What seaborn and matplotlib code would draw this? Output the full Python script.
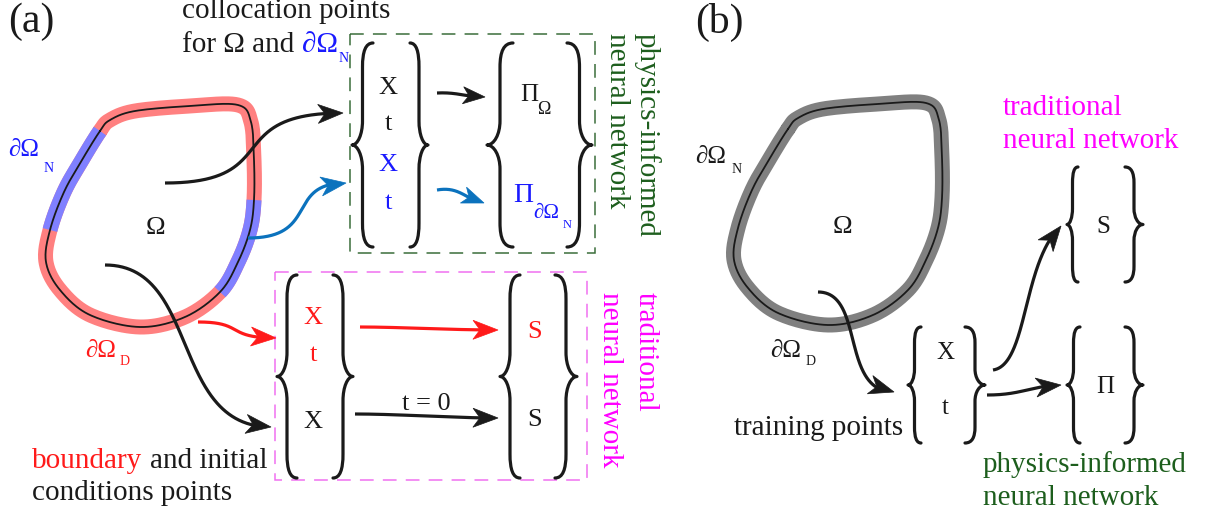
import numpy as np
import matplotlib
matplotlib.use("Agg")
import matplotlib.pyplot as plt
import seaborn as sns
from matplotlib.path import Path
from matplotlib.patches import Rectangle, PathPatch, Polygon

sns.set_theme(style="white")
plt.rcParams["font.family"] = ["Liberation Serif", "DejaVu Serif"]

W, H = 1220, 517
PT = 72 / 100.0  # points per pixel

# ---------------- data ----------------
# domain outline control points (panel a, pixel space)
domain_x = [100, 82, 64, 50, 46, 60, 90, 140, 185, 220, 238, 250, 254, 254, 251, 238, 190, 135, 110]
domain_y = [131, 160, 192, 230, 262, 290, 315, 327, 317, 292, 262, 230, 200, 160, 122, 105, 106, 111, 120]
neumann_segments = [(0, 3), (9, 12)]
panel_b_shift = (688, -2)

RED = "#ff1a1a"
BLUE = "#1a1aff"
ARROW_BLUE = "#0b72bd"
GREEN = "#1d5e1d"
GREEN_BOX = "#3a6e3a"
MAGENTA = "#ff00ff"
PINK_BOX = "#f070f0"

# ---------------- helpers ----------------
def catmull_closed(xs, ys, n=24):
    P = np.column_stack([xs, ys]).astype(float)
    m = len(P)
    out = []
    for i in range(m):
        p0, p1, p2, p3 = P[(i - 1) % m], P[i], P[(i + 1) % m], P[(i + 2) % m]
        t = np.linspace(0, 1, n, endpoint=False)[:, None]
        seg = 0.5 * ((2 * p1) + (-p0 + p2) * t + (2 * p0 - 5 * p1 + 4 * p2 - p3) * t ** 2
                     + (-p0 + 3 * p1 - 3 * p2 + p3) * t ** 3)
        out.append(seg)
    return np.vstack(out), n


def brace(ax, x_tip, x_end, y0, y1, r=20, color="k", lw=2.3):
    xb = (x_tip + x_end) / 2.0
    ym = (y0 + y1) / 2.0
    verts = [
        (x_end, y0),
        (xb + (x_end - xb) * 0.3, y0), (xb, y0 + r * 0.35), (xb, y0 + r),
        (xb, ym - r),
        (xb, ym - r * 0.45), (xb + (x_tip - xb) * 0.45, ym), (x_tip, ym),
        (xb + (x_tip - xb) * 0.45, ym), (xb, ym + r * 0.45), (xb, ym + r),
        (xb, y1 - r),
        (xb, y1 - r * 0.35), (xb + (x_end - xb) * 0.3, y1), (x_end, y1),
    ]
    codes = [Path.MOVETO] + [Path.CURVE4] * 3 + [Path.LINETO] + [Path.CURVE4] * 6 + \
            [Path.LINETO] + [Path.CURVE4] * 3
    ax.add_patch(PathPatch(Path(verts, codes), fill=False, edgecolor=color, lw=lw,
                           capstyle="round", joinstyle="round"))


def arrow(ax, p0, c1, c2, p1, color="k", lw=2.3, L=25.0, hw=9.5, notch=7.0):
    P = np.array([p0, c1, c2, p1], float)
    t = np.linspace(0, 1, 300)[:, None]
    pts = ((1 - t) ** 3) * P[0] + 3 * ((1 - t) ** 2) * t * P[1] + 3 * (1 - t) * t ** 2 * P[2] + t ** 3 * P[3]
    tip = P[3]
    dist = np.hypot(pts[:, 0] - tip[0], pts[:, 1] - tip[1])
    keep = dist >= (L - notch - 1)
    idx = np.where(dist >= L * 0.8)[0][-1]
    d = tip - pts[idx]
    d = d / np.hypot(*d)
    nvec = np.array([-d[1], d[0]])
    back = tip - L * d
    head = [tip, back + hw * nvec, tip - (L - notch) * d, back - hw * nvec]
    line = pts[keep]
    ax.plot(line[:, 0], line[:, 1], color=color, lw=lw, solid_capstyle="butt", zorder=3)
    ax.add_patch(Polygon(head, closed=True, facecolor=color, edgecolor=color, lw=0.5, zorder=3))


def txt(ax, x, y, s, size=21, color="k", ha="left", va="baseline", **kw):
    ax.text(x, y, s, fontsize=size, color=color, ha=ha, va=va, **kw)


def domain(ax, dx, dy, band_color, segments):
    xs = np.array(domain_x, float) + dx
    ys = np.array(domain_y, float) + dy
    curve, n = catmull_closed(xs, ys)
    closed = np.vstack([curve, curve[:1]])
    ax.plot(closed[:, 0], closed[:, 1], color=band_color, lw=15 * PT,
            solid_joinstyle="round", zorder=1)
    for i0, i1 in segments:
        seg = closed[i0 * n:i1 * n + 1]
        ax.plot(seg[:, 0], seg[:, 1], color="#8080ff", lw=15 * PT,
                solid_capstyle="butt", zorder=1.5)
    sns.lineplot(x=closed[:, 0], y=closed[:, 1], sort=False, estimator=None,
                 color="k", lw=1.3, ax=ax, zorder=2)


# ---------------- figure ----------------
fig = plt.figure(figsize=(12.2, 5.17), dpi=100)
ax = fig.add_axes([0, 0, 1, 1])

# ===== panel (a) =====
domain(ax, 0, 0, "#ff8080", neumann_segments)
txt(ax, 8, 22, "(a)", size=30, va="center")
txt(ax, 182, 18, "collocation points")
txt(ax, 182, 52, "for \u03a9 and")
txt(ax, 302, 52, "\u2202\u03a9", color=BLUE)
txt(ax, 339, 62, "N", size=10, color=BLUE)

txt(ax, 8, 156, "\u2202\u03a9", size=18, color=BLUE)
txt(ax, 44, 172, "N", size=10, color=BLUE)
txt(ax, 155, 228, "\u03a9", size=19, ha="center", va="center")
txt(ax, 85, 357, "\u2202\u03a9", size=18, color=RED)
txt(ax, 120, 365, "D", size=10, color=RED)

txt(ax, 32, 468, "boundary", color=RED)
txt(ax, 150, 468, "and initial")
txt(ax, 32, 500, "conditions points")

# green (physics-informed) box
ax.add_patch(Rectangle((350, 34), 245, 219, fill=False, edgecolor=GREEN_BOX, lw=1.1,
                       linestyle=(0, (9, 6))))
brace(ax, 352, 373, 43, 247, r=24)
brace(ax, 428, 410, 43, 247, r=24)
brace(ax, 487, 513, 43, 247, r=24)
brace(ax, 592, 567, 43, 247, r=24)
txt(ax, 388, 88, "X", size=19, ha="center", va="center")
txt(ax, 388, 124, "t", size=19, ha="center", va="center")
txt(ax, 388, 165, "X", size=19, ha="center", va="center", color=BLUE)
txt(ax, 388, 203, "t", size=19, ha="center", va="center", color=BLUE)
txt(ax, 529, 95, "\u03a0", size=18, ha="center", va="center")
txt(ax, 544, 109, "\u03a9", size=13, ha="center", va="center")
txt(ax, 523, 195, "\u03a0", size=20, ha="center", va="center", color=BLUE)
txt(ax, 546, 214, "\u2202\u03a9", size=15, ha="center", va="center", color=BLUE)
txt(ax, 567, 225, "N", size=9, ha="center", va="center", color=BLUE)
txt(ax, 647, 33, "physics-informed", color=GREEN, rotation=270, ha="center", va="top")
txt(ax, 617, 33, "neural network", color=GREEN, rotation=270, ha="center", va="top")

arrow(ax, (437, 93), (458, 92), (465, 97), (485, 97), L=22, hw=8.5, notch=6)
arrow(ax, (437, 190), (460, 186), (466, 200), (484, 203), color=ARROW_BLUE, L=22, hw=8.5, notch=6)

# pink (traditional) box
ax.add_patch(Rectangle((275, 272), 312, 208, fill=False, edgecolor=PINK_BOX, lw=1.1,
                       linestyle=(0, (9, 6))))
brace(ax, 277, 297, 275, 478, r=24)
brace(ax, 353, 333, 275, 478, r=24)
brace(ax, 500, 520, 275, 478, r=24)
brace(ax, 577, 555, 275, 478, r=24)
txt(ax, 313, 318, "X", size=19, ha="center", va="center", color=RED)
txt(ax, 313, 355, "t", size=19, ha="center", va="center", color=RED)
txt(ax, 313, 422, "X", size=19, ha="center", va="center")
txt(ax, 535, 332, "S", size=19, ha="center", va="center", color=RED)
txt(ax, 535, 420, "S", size=19, ha="center", va="center")
txt(ax, 426, 410, "t = 0", size=19, ha="center")
txt(ax, 646, 292, "traditional", color=MAGENTA, rotation=270, ha="center", va="top")
txt(ax, 610, 292, "neural network", color=MAGENTA, rotation=270, ha="center", va="top")

arrow(ax, (360, 327), (400, 327), (450, 330), (498, 330), color=RED)
arrow(ax, (355, 414), (400, 414), (450, 418), (498, 418))

# arrows from domain (a)
arrow(ax, (165, 183), (285, 183), (220, 113), (343, 113))
arrow(ax, (248, 238), (320, 238), (285, 183), (346, 183), color=ARROW_BLUE)
arrow(ax, (105, 265), (200, 265), (170, 427), (271, 427))
arrow(ax, (198, 322), (245, 322), (225, 338), (276, 338), color=RED)

# ===== panel (b) =====
domain(ax, panel_b_shift[0], panel_b_shift[1], "#808080", [])
txt(ax, 695, 22, "(b)", size=30, va="center")
txt(ax, 695, 163, "\u2202\u03a9", size=18)
txt(ax, 732, 173, "N", size=10)
txt(ax, 842, 227, "\u03a9", size=19, ha="center", va="center")
txt(ax, 770, 357, "\u2202\u03a9", size=18)
txt(ax, 806, 365, "D", size=10)
txt(ax, 1003, 115, "traditional", color=MAGENTA)
txt(ax, 1003, 148, "neural network", color=MAGENTA)
txt(ax, 983, 472, "physics-informed", color=GREEN)
txt(ax, 983, 505, "neural network", color=GREEN)
txt(ax, 903, 435, "training points", ha="right")

brace(ax, 908, 921, 327, 443, r=16)
brace(ax, 985, 965, 327, 443, r=16)
brace(ax, 1067, 1078, 167, 282, r=16)
brace(ax, 1143, 1125, 167, 282, r=16)
brace(ax, 1067, 1080, 327, 443, r=16)
brace(ax, 1143, 1125, 327, 443, r=16)
txt(ax, 945, 353, "X", size=18, ha="center", va="center")
txt(ax, 945, 408, "t", size=18, ha="center", va="center")
txt(ax, 1103, 227, "S", size=18, ha="center", va="center")
txt(ax, 1105, 387, "\u03a0", size=18, ha="center", va="center")

arrow(ax, (818, 292), (865, 292), (840, 392), (894, 392))
arrow(ax, (993, 370), (1028, 365), (1022, 262), (1061, 226))
arrow(ax, (987, 395), (1022, 395), (1030, 386), (1061, 385))

ax.set_xlim(0, W)
ax.set_ylim(H, 0)
ax.set_xlabel("")
ax.set_ylabel("")
ax.axis("off")
fig.savefig("out.png", dpi=100)
